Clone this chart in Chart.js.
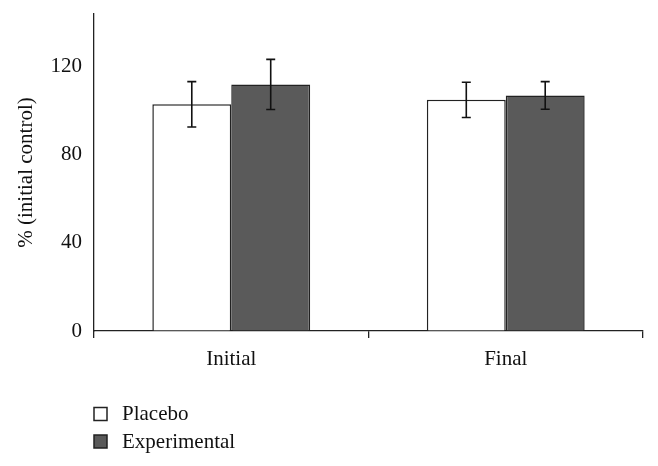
<!DOCTYPE html>
<html lang="en">
<head>
    <meta charset="UTF-8">
    <title>Placebo vs Experimental</title>
    <script src="https://cdn.jsdelivr.net/npm/chart.js"></script>
    <style>
        body {
            margin: 0;
            padding: 0;
            background: #fff;
        }

        .container {
            width: 658px;
            height: 466px;
            position: relative;
        }
    </style>
</head>
<body>

    <div class="container">
        <canvas id="barChart"></canvas>
    </div>

    <script>
        // Data
        const categories = ['Initial', 'Final'];
        const placebo = [103, 105];
        const placeboErr = [10.3, 8];
        const experimental = [112, 107];
        const experimentalErr = [11.4, 6.3];
        const yTicks = [0, 40, 80, 120];

        const textColor = '#111';
        const fontFamily = "'Liberation Serif', 'Times New Roman', serif";

        // Error bars, drawn from the error arrays through the y scale
        const errorBars = {
            id: 'errorBars',
            afterDatasetsDraw(chart) {
                const ctx = chart.ctx;
                const y = chart.scales.y;
                chart.data.datasets.forEach((ds, i) => {
                    const meta = chart.getDatasetMeta(i);
                    meta.data.forEach((bar, j) => {
                        const v = ds.data[j];
                        const e = ds.errors[j];
                        const top = y.getPixelForValue(v + e);
                        const bottom = y.getPixelForValue(v - e);
                        ctx.save();
                        ctx.strokeStyle = '#111';
                        ctx.lineWidth = 1.6;
                        ctx.beginPath();
                        ctx.moveTo(bar.x, top);
                        ctx.lineTo(bar.x, bottom);
                        ctx.moveTo(bar.x - 4.5, top);
                        ctx.lineTo(bar.x + 4.5, top);
                        ctx.moveTo(bar.x - 4.5, bottom);
                        ctx.lineTo(bar.x + 4.5, bottom);
                        ctx.stroke();
                        ctx.restore();
                    });
                });
            }
        };

        // Vertical legend in the lower left corner
        const sideLegend = {
            id: 'sideLegend',
            afterDraw(chart) {
                const ctx = chart.ctx;
                ctx.save();
                ctx.font = '21px ' + fontFamily;
                ctx.textBaseline = 'alphabetic';
                chart.data.datasets.forEach((ds, i) => {
                    const boxY = 407.5 + i * 27.5;
                    ctx.fillStyle = ds.backgroundColor;
                    ctx.fillRect(94, boxY, 13, 13);
                    ctx.strokeStyle = '#222';
                    ctx.lineWidth = 1.5;
                    ctx.strokeRect(94, boxY, 13, 13);
                    ctx.fillStyle = textColor;
                    ctx.fillText(ds.label, 122, boxY + 12.8);
                });
                ctx.restore();
            }
        };

        const ctx = document.getElementById('barChart').getContext('2d');

        const barChart = new Chart(ctx, {
            type: 'bar',
            data: {
                labels: categories,
                datasets: [
                    {
                        label: 'Placebo',
                        data: placebo,
                        errors: placeboErr,
                        backgroundColor: '#ffffff',
                        borderColor: '#222',
                        borderWidth: 1.5
                    },
                    {
                        label: 'Experimental',
                        data: experimental,
                        errors: experimentalErr,
                        backgroundColor: '#5a5a5a',
                        borderColor: '#222',
                        borderWidth: 1.5
                    }
                ]
            },
            options: {
                responsive: true,
                maintainAspectRatio: false,
                animation: false,
                categoryPercentage: 0.575,
                barPercentage: 1,
                layout: {
                    padding: { left: 0, top: 14, right: 15, bottom: 0 }
                },
                plugins: {
                    legend: { display: false },
                    tooltip: { enabled: false }
                },
                scales: {
                    x: {
                        grid: {
                            offset: true,
                            drawOnChartArea: false,
                            drawTicks: true,
                            tickLength: 7,
                            color: '#222',
                            lineWidth: 1.3
                        },
                        border: { display: true, color: '#222', width: 1.3 },
                        ticks: {
                            color: textColor,
                            padding: 9,
                            font: { family: fontFamily, size: 21 }
                        },
                        afterFit: scale => {
                            scale.height = 135;
                            scale.paddingLeft = 0;
                            scale.paddingRight = 0;
                        }
                    },
                    y: {
                        min: 0,
                        max: 144,
                        afterBuildTicks: axis => {
                            axis.ticks = yTicks.map(v => ({ value: v }));
                        },
                        grid: {
                            drawOnChartArea: false,
                            drawTicks: false
                        },
                        border: { display: true, color: '#222', width: 1.3 },
                        ticks: {
                            color: textColor,
                            padding: 12,
                            font: { family: fontFamily, size: 21 }
                        },
                        title: {
                            display: true,
                            text: '% (initial control)',
                            color: textColor,
                            padding: { top: 14, bottom: 0 },
                            font: { family: fontFamily, size: 21 }
                        },
                        afterFit: scale => {
                            scale.width = 94;
                            scale.paddingTop = 0;
                            scale.paddingBottom = 0;
                        }
                    }
                }
            },
            plugins: [errorBars, sideLegend]
        });
    </script>

</body>
</html>
